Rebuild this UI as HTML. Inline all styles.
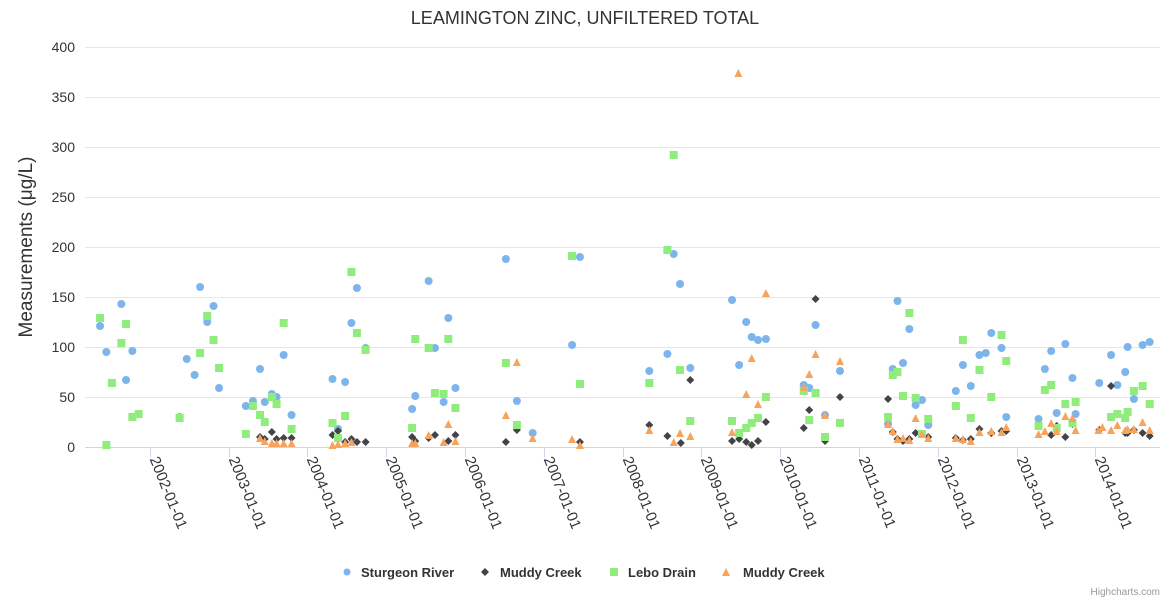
<!DOCTYPE html>
<html><head><meta charset="utf-8"><style>
html,body{margin:0;padding:0;background:#fff;}
svg{display:block;font-family:"Liberation Sans",sans-serif;}
</style></head><body>
<svg id="chart" width="1170" height="600" xmlns="http://www.w3.org/2000/svg">
<rect width="1170" height="600" fill="#fff"/>
<text x="585" y="24" text-anchor="middle" font-size="18" fill="#333">LEAMINGTON ZINC, UNFILTERED TOTAL</text>
<text transform="translate(32,247) rotate(-90)" text-anchor="middle" font-size="19" fill="#333">Measurements (μg/L)</text>
<g id="grid"></g><g id="xaxis"></g><g id="marks"></g>
<g>
<g><circle cx="347" cy="572" r="3.5" fill="#7cb5ec"/><text x="361" y="577" font-size="13" font-weight="bold" fill="#333">Sturgeon River</text></g>
<g><path d="M485 568 L489 572 L485 576 L481 572 Z" fill="#434348"/><text x="500" y="577" font-size="13" font-weight="bold" fill="#333">Muddy Creek</text></g>
<g><rect x="610" y="568" width="8" height="8" fill="#90ed7d"/><text x="628" y="577" font-size="13" font-weight="bold" fill="#333">Lebo Drain</text></g>
<g><path d="M726 568 L730 576 L722 576 Z" fill="#f7a35c"/><text x="743" y="577" font-size="13" font-weight="bold" fill="#333">Muddy Creek</text></g>
</g>
<text x="1160" y="595" text-anchor="end" font-size="10" fill="#999">Highcharts.com</text>
</svg>
<script>
const yTicks = [0,50,100,150,200,250,300,350,400];
const xTickYears = [2002,2003,2004,2005,2006,2007,2008,2009,2010,2011,2012,2013,2014];
const sturgeonDates = [2001.37,2001.45,2001.64,2001.70,2001.78,2002.38,2002.47,2002.57,2002.64,2002.73,2002.81,2002.88,2003.22,2003.31,2003.40,2003.46,2003.55,2003.61,2003.70,2003.80,2004.32,2004.39,2004.48,2004.56,2004.63,2004.74,2005.33,2005.37,2005.54,2005.62,2005.73,2005.79,2005.88,2006.52,2006.66,2006.86,2007.36,2007.46,2008.34,2008.57,2008.65,2008.73,2008.86,2009.39,2009.48,2009.57,2009.64,2009.72,2009.82,2010.30,2010.37,2010.45,2010.57,2010.76,2011.37,2011.43,2011.49,2011.56,2011.64,2011.72,2011.80,2011.88,2012.23,2012.32,2012.42,2012.53,2012.61,2012.68,2012.81,2012.87,2013.28,2013.36,2013.44,2013.51,2013.62,2013.71,2013.75,2014.05,2014.20,2014.28,2014.38,2014.41,2014.49,2014.60,2014.69];
const sturgeonValues = [121,95,143,67,96,30,88,72,160,125,141,59,41,46,78,45,53,50,92,32,68,18,65,124,159,99,38,51,166,99,45,129,59,188,46,14,102,190,76,93,193,163,79,147,82,125,110,107,108,62,59,122,32,76,23,78,146,84,118,42,47,22,56,82,61,92,94,114,99,30,28,78,96,34,103,69,33,64,92,62,75,100,48,102,105];
const muddyDates = [2003.40,2003.46,2003.55,2003.61,2003.70,2003.80,2004.32,2004.39,2004.48,2004.56,2004.63,2004.74,2005.33,2005.37,2005.54,2005.62,2005.79,2005.88,2006.52,2006.66,2007.46,2008.34,2008.57,2008.74,2008.86,2009.39,2009.48,2009.57,2009.64,2009.72,2009.82,2010.30,2010.37,2010.45,2010.57,2010.76,2011.37,2011.43,2011.49,2011.56,2011.64,2011.72,2011.88,2012.23,2012.32,2012.42,2012.53,2012.68,2012.81,2012.87,2013.44,2013.51,2013.62,2013.71,2014.05,2014.20,2014.38,2014.41,2014.49,2014.60,2014.69];
const muddyValues = [10,8,15,8,9,9,12,16,5,8,5,5,10,6,9,12,6,12,5,17,5,22,11,4,67,6,8,5,2,6,25,19,37,148,6,50,48,15,8,6,8,14,10,9,7,8,18,14,16,16,12,21,10,23,17,61,14,14,17,14,11];
const leboDates = [2001.37,2001.45,2001.52,2001.64,2001.70,2001.78,2001.86,2002.38,2002.64,2002.73,2002.81,2002.88,2003.22,2003.31,2003.40,2003.46,2003.55,2003.61,2003.70,2003.80,2004.32,2004.39,2004.48,2004.56,2004.63,2004.74,2005.33,2005.37,2005.54,2005.62,2005.73,2005.79,2005.88,2006.52,2006.66,2007.36,2007.46,2008.34,2008.57,2008.65,2008.73,2008.86,2009.39,2009.48,2009.57,2009.64,2009.72,2009.82,2010.30,2010.37,2010.45,2010.57,2010.76,2011.37,2011.43,2011.49,2011.56,2011.64,2011.72,2011.80,2011.88,2012.23,2012.32,2012.42,2012.53,2012.68,2012.81,2012.87,2013.28,2013.36,2013.44,2013.51,2013.62,2013.71,2013.75,2014.20,2014.28,2014.38,2014.41,2014.49,2014.60,2014.69];
const leboValues = [129,2,64,104,123,30,33,29,94,131,107,79,13,41,32,25,50,43,124,18,24,9,31,175,114,97,19,108,99,54,53,108,39,84,22,191,63,64,197,292,77,26,26,14,19,24,29,50,56,27,54,10,24,30,72,75,51,134,49,13,28,41,107,29,77,50,112,86,21,57,62,19,43,24,45,30,33,29,35,56,61,43];
const muddy2Dates = [2003.40,2003.46,2003.55,2003.61,2003.70,2003.80,2004.32,2004.39,2004.48,2004.56,2005.33,2005.37,2005.54,2005.73,2005.79,2005.88,2006.52,2006.66,2006.86,2007.36,2007.46,2008.34,2008.65,2008.73,2008.86,2009.39,2009.47,2009.57,2009.64,2009.72,2009.82,2010.30,2010.37,2010.45,2010.57,2010.76,2011.37,2011.43,2011.49,2011.56,2011.64,2011.72,2011.80,2011.88,2012.23,2012.32,2012.42,2012.53,2012.68,2012.81,2012.87,2013.28,2013.36,2013.44,2013.51,2013.62,2013.71,2013.75,2014.04,2014.09,2014.20,2014.28,2014.38,2014.41,2014.49,2014.60,2014.69];
const muddy2Values = [9,6,4,4,4,4,2,3,4,5,4,4,12,5,23,6,32,85,9,8,2,17,5,14,11,15,374,53,89,43,154,60,73,93,32,86,23,16,8,9,7,29,13,9,9,8,6,15,16,15,20,13,16,24,16,31,29,17,17,20,17,22,17,18,18,25,17];

const NS = "http://www.w3.org/2000/svg";
const X0 = 149.7, PXY = 78.8, PLOT_L = 85, PLOT_R = 1160, Y0 = 447;
function xPos(yr){ return X0 + (yr - 2002) * PXY; }
function yPos(v){ return Y0 - v * 1.0; }
function mk(tag, attrs, parent){
  const e = document.createElementNS(NS, tag);
  for (const k in attrs) e.setAttribute(k, attrs[k]);
  parent.appendChild(e); return e;
}
const grid = document.getElementById('grid');
yTicks.forEach(t => {
  const l = mk('line', {x1:PLOT_L, x2:PLOT_R, y1:yPos(t)+0.5, y2:yPos(t)+0.5, stroke: t===0?'#ccd6eb':'#e6e6e6', 'stroke-width':1}, grid);
  
  
  const tx = mk('text', {x:75, y:yPos(t)+5, 'text-anchor':'end', 'font-size':14, fill:'#333'}, grid);
  tx.textContent = t;
  
  
});
const xa = document.getElementById('xaxis');
xTickYears.forEach(yr => {
  const x = Math.round(xPos(yr)) + 0.5;
  const tk = mk('line', {x1:x, x2:x, y1:Y0, y2:Y0+10, stroke:'#ccd6eb'}, xa);
  
  
  const tx = mk('text', {transform:'translate('+(x-1)+','+(Y0+12)+') rotate(68)', 'font-size':15, fill:'#333'}, xa);
  tx.textContent = yr + '-01-01';
  
  
});
const marks = document.getElementById('marks');
function draw(dates, vals, kind, color, name){
  dates.forEach((d, i) => {
    const x = xPos(d), y = yPos(vals[i]);
    let e;
    if (kind === 'circle') e = mk('circle', {cx:x, cy:y, r:4, fill:color}, marks);
    else if (kind === 'square') e = mk('rect', {x:x-4, y:y-4, width:8, height:8, fill:color}, marks);
    else if (kind === 'diamond') e = mk('path', {d:'M'+x+' '+(y-4)+' L'+(x+4)+' '+y+' L'+x+' '+(y+4)+' L'+(x-4)+' '+y+' Z', fill:color}, marks);
    else e = mk('path', {d:'M'+x+' '+(y-4)+' L'+(x+4)+' '+(y+4)+' L'+(x-4)+' '+(y+4)+' Z', fill:color}, marks);
    
    
  });
}
draw(sturgeonDates, sturgeonValues, 'circle', '#7cb5ec', 'sturgeon-river-point');
draw(muddyDates, muddyValues, 'diamond', '#434348', 'muddy-creek-point');
draw(leboDates, leboValues, 'square', '#90ed7d', 'lebo-drain-point');
draw(muddy2Dates, muddy2Values, 'triangle', '#f7a35c', 'muddy-creek-2-point');
</script>
</body></html>
